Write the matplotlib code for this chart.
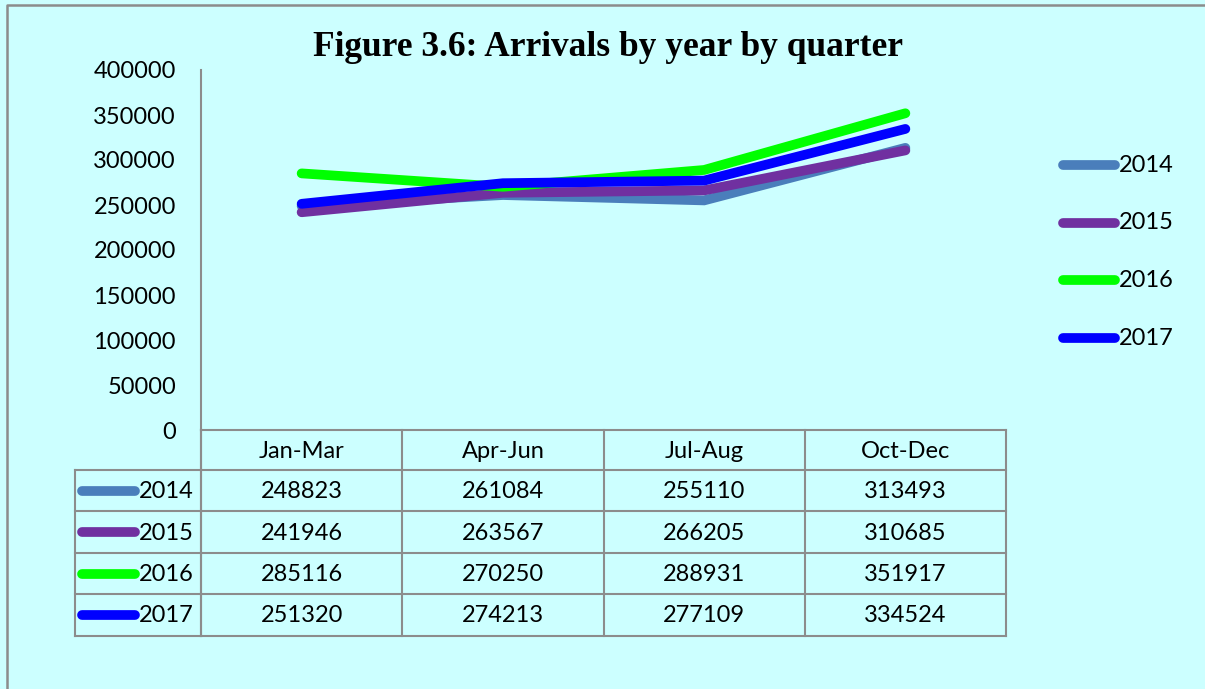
import matplotlib.pyplot as plt

quarters = ['Jan-Mar', 'Apr-Jun', 'Jul-Aug', 'Oct-Dec']
years = ['2014', '2015', '2016', '2017']
arrivals = {
    '2014': [248823, 261084, 255110, 313493],
    '2015': [241946, 263567, 266205, 310685],
    '2016': [285116, 270250, 288931, 351917],
    '2017': [251320, 274213, 277109, 334524],
}
colors = ['#4A7EBB', '#7030A0', '#00FF00', '#0000FF']
yticks = [0, 50000, 100000, 150000, 200000, 250000, 300000, 350000, 400000]

W, H = 1205, 689
bg = '#CCFFFF'
grid_c = '#8C8C8C'
font = 'Lato'
fs = 17

fig = plt.figure(figsize=(W / 100, H / 100), dpi=100)
fig.patch.set_facecolor(bg)

# overlay in pixel coordinates for frame and table
ov = fig.add_axes([0, 0, 1, 1])
ov.set_xlim(0, W)
ov.set_ylim(H, 0)
ov.axis('off')
ov.patch.set_alpha(0)

# chart area
x0, x1, ytop, ybot = 201, 1006, 70, 430
ax = fig.add_axes([x0 / W, 1 - ybot / H, (x1 - x0) / W, (ybot - ytop) / H])
ax.set_facecolor('none')
ax.set_xlim(0, len(quarters))
ax.set_ylim(0, 400000)
for i, yr in enumerate(years):
    ax.plot([k + 0.5 for k in range(len(quarters))], arrivals[yr], color=colors[i],
            lw=7, solid_capstyle='round', solid_joinstyle='miter', zorder=3 + i)
ax.set_yticks(yticks)
ax.set_yticklabels([str(v) for v in yticks], fontsize=fs, fontfamily=font)
ax.tick_params(axis='y', length=0, pad=18)
ax.set_xticks([])
for s in ['top', 'right', 'bottom']:
    ax.spines[s].set_visible(False)
ax.spines['left'].set_color(grid_c)
ax.spines['left'].set_linewidth(1.5)

fig.text(608 / W, 1 - 48 / H, 'Figure 3.6: Arrivals by year by quarter', ha='center', va='center',
         fontsize=25.5, fontweight='bold', fontfamily='Liberation Serif')

# outer frame
ov.plot([7, 7, W + 5], [H + 5, 5, 5], color=grid_c, lw=1.8)

# table
col_w = (x1 - x0) / len(quarters)
row_top = [430, 470, 511, 553, 594, 636]
lx = 75
lk = dict(color=grid_c, lw=1.5, solid_capstyle='projecting')
ov.plot([x0, x1], [row_top[0], row_top[0]], **lk)
for r in row_top[1:]:
    ov.plot([lx, x1], [r, r], **lk)
for j in range(len(quarters) + 1):
    ov.plot([x0 + j * col_w] * 2, [row_top[0], row_top[-1]], **lk)
ov.plot([lx, lx], [row_top[1], row_top[-1]], **lk)
ov.plot([x0, x0], [ybot, row_top[-1]], **lk)

for j, q in enumerate(quarters):
    ov.text(x0 + (j + 0.5) * col_w, (row_top[0] + row_top[1]) / 2 + 1, q, ha='center', va='center',
            fontsize=fs, fontfamily=font)
for i, yr in enumerate(years):
    yc = (row_top[i + 1] + row_top[i + 2]) / 2
    ov.plot([82, 135], [yc, yc], color=colors[i], lw=7, solid_capstyle='round')
    ov.text(139, yc + 1, yr, ha='left', va='center', fontsize=fs, fontfamily=font)
    for j in range(len(quarters)):
        ov.text(x0 + (j + 0.5) * col_w, yc + 1, str(arrivals[yr][j]), ha='center', va='center',
                fontsize=fs, fontfamily=font)

# legend on the right
for i, yr in enumerate(years):
    yc = 165 + i * 57.7
    ov.plot([1063, 1115], [yc, yc], color=colors[i], lw=7, solid_capstyle='round')
    ov.text(1119, yc, yr, ha='left', va='center', fontsize=fs, fontfamily=font)

fig.savefig('out.png', dpi=100, facecolor=bg)
